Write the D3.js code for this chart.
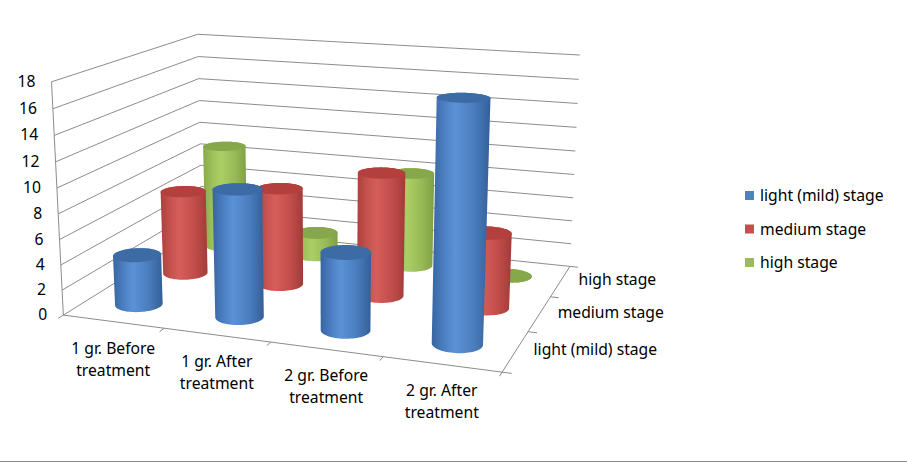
<!DOCTYPE html>
<html lang="en">
<head>
    <meta charset="UTF-8"/>
    <title>Stages before and after treatment</title>
    <script src="https://d3js.org/d3.v7.min.js"></script>
    <style>
        body { margin: 0; background: #fff; }
        text { font-family: "Noto Sans", "Liberation Sans", sans-serif; fill: #000; }
    </style>
</head>
<body>
    <div id="chart"></div>

    <script>
        // data
        var categories = ["1 gr. Before treatment", "1 gr. After treatment",
                          "2 gr. Before treatment", "2 gr. After treatment"];
        var series = ["light (mild) stage", "medium stage", "high stage"];
        var lightValues = [4, 10, 6, 18];
        var mediumValues = [7, 8, 10, 6];
        var highValues = [9, 2, 8, 0];
        var valueTicks = [0, 2, 4, 6, 8, 10, 12, 14, 16, 18];
        var seriesValues = [lightValues, mediumValues, highValues];

        var w = 907;
        var h = 463;
        var fontSize = 15.7;

        // 3d box (world units) and camera
        var boxW = 305.1, boxD = 226.3, boxH = 161.2;
        var yaw = 0.3461, pitch = 0.2611, focal = 1418.7, dist = 1000;
        var cx = 327.0, cy = 199.2, shiftA = -2.0, shiftB = -12.9;

        var xScale = d3.scaleBand().domain(categories).range([0, boxW]);
        var zScale = d3.scaleBand().domain(series).range([0, boxD]);
        var yScale = d3.scaleLinear().domain([0, 18]).range([0, boxH]);
        var radius = xScale.bandwidth() * 0.216;

        var colors = d3.scaleOrdinal().domain(series).range(["#4f81bd", "#c0504d", "#9bbb59"]);
        var topColors = d3.scaleOrdinal().domain(series).range(["#3d6ba6", "#b4403d", "#87a84a"]);
        var shades = {
            "light (mild) stage": ["#3765a0", "#4c80c4", "#5b92d6", "#4a7dbd", "#345f98"],
            "medium stage": ["#ad3f3c", "#c75350", "#d65d5a", "#c14e4b", "#a23b39"],
            "high stage": ["#87a94b", "#9fc25c", "#abcf66", "#98ba57", "#7f9f45"]
        };

        var sp = Math.sin(yaw), cp = Math.cos(yaw), sf = Math.sin(pitch), cf = Math.cos(pitch);
        var fwd = [-sp * cf, -sf, cp * cf], right = [cp, 0, sp], up = [-sf * sp, cf, sf * cp];
        var eye = [0, 1, 2].map(function(i) {
            var centre = [boxW / 2, boxH / 2, boxD / 2][i];
            return centre - dist * fwd[i] + shiftA * right[i] + shiftB * up[i];
        });

        // world (x along categories, y up, z into depth) -> screen
        function project(X, Y, Z) {
            var v = [X - eye[0], Y - eye[1], Z - eye[2]];
            var xc = v[0] * right[0] + v[1] * right[1] + v[2] * right[2];
            var yc = v[0] * up[0] + v[1] * up[1] + v[2] * up[2];
            var zc = v[0] * fwd[0] + v[1] * fwd[1] + v[2] * fwd[2];
            return [cx + focal * xc / zc, cy - focal * yc / zc, zc];
        }

        var line = d3.line();

        var svg = d3.select("#chart")
                    .append("svg")
                    .attr("width", w)
                    .attr("height", h);

        var defs = svg.append("defs");
        series.forEach(function(s, i) {
            var g = defs.append("linearGradient").attr("id", "shade" + i);
            shades[s].forEach(function(c, k) {
                g.append("stop").attr("offset", [0, 0.22, 0.4, 0.72, 1][k]).attr("stop-color", c);
            });
        });

        // walls: gridlines on left and back wall
        svg.append("g")
            .selectAll("path")
            .data(valueTicks)
            .enter()
            .append("path")
            .attr("d", function(t) {
                var y = yScale(t);
                return line([project(0, y, 0), project(0, y, boxD), project(boxW, y, boxD)]);
            })
            .attr("fill", "none")
            .attr("stroke", "#8c8c8c")
            .attr("stroke-width", 1);

        // axis lines
        var axisG = svg.append("g").attr("stroke", "#8c8c8c").attr("fill", "none");
        axisG.append("path").attr("d", line([project(0, 0, 0), project(0, boxH, 0)]));
        axisG.append("path").attr("d", line([project(0, 0, 0), project(boxW, 0, 0), project(boxW, 0, boxD)]));

        // category ticks on front edge, series ticks on right edge
        var xEdges = categories.map(function(c) { return xScale(c); }).concat([boxW]);
        axisG.selectAll(".xtick")
            .data(xEdges)
            .enter()
            .append("path")
            .attr("d", function(x) { return line([project(x, 0, 0), project(x, 0, -7)]); });
        var zEdges = series.map(function(s) { return zScale(s); }).concat([boxD]);
        axisG.selectAll(".ztick")
            .data(zEdges)
            .enter()
            .append("path")
            .attr("d", function(z) { return line([project(boxW, 0, z), project(boxW + 6, 0, z)]); });

        // value labels
        svg.append("g")
            .selectAll("text")
            .data(valueTicks)
            .enter()
            .append("text")
            .text(function(t) { return t; })
            .attr("x", function(t) { return project(0, yScale(t), 0)[0] - 16; })
            .attr("y", function(t) { return project(0, yScale(t), 0)[1] + 5; })
            .attr("text-anchor", "end")
            .style("font-size", fontSize + "px");

        // category labels (two lines)
        svg.append("g")
            .selectAll("text")
            .data(categories)
            .enter()
            .append("text")
            .attr("text-anchor", "middle")
            .style("font-size", fontSize + "px")
            .each(function(c) {
                var p = project(xScale(c) + xScale.bandwidth() / 2, 0, 0);
                var cut = c.lastIndexOf(" ");
                var t = d3.select(this);
                t.append("tspan").attr("x", p[0]).attr("y", p[1] + 32).text(c.slice(0, cut));
                t.append("tspan").attr("x", p[0]).attr("y", p[1] + 54).text(c.slice(cut + 1));
            });

        // series labels on depth axis
        svg.append("g")
            .selectAll("text")
            .data(series)
            .enter()
            .append("text")
            .text(function(s) { return s; })
            .attr("x", function(s) { return project(boxW, 0, zScale(s) + zScale.bandwidth() / 2)[0] + 18; })
            .attr("y", function(s) { return project(boxW, 0, zScale(s) + zScale.bandwidth() / 2)[1] + 4; })
            .style("font-size", fontSize + "px");

        // cylinders, far ones first
        var bars = [];
        series.forEach(function(s, j) {
            categories.forEach(function(c, i) {
                var X = xScale(c) + xScale.bandwidth() / 2;
                var Z = zScale(s) + zScale.bandwidth() / 2;
                bars.push({ s: s, j: j, c: c, value: seriesValues[j][i], X: X, Z: Z, depth: project(X, 0, Z)[2] });
            });
        });
        bars.sort(function(a, b) { return b.depth - a.depth; });

        var angles = d3.range(0, 2 * Math.PI, Math.PI / 36);
        function ring(d, y) {
            return angles.map(function(a) {
                var p = project(d.X + radius * Math.cos(a), y, d.Z + radius * Math.sin(a));
                return [p[0], p[1]];
            });
        }

        var barG = svg.append("g")
                      .selectAll("g")
                      .data(bars)
                      .enter()
                      .append("g");
        barG.append("path")
            .attr("d", function(d) {
                var pts = ring(d, 0).concat(ring(d, yScale(d.value)));
                return line(d3.polygonHull(pts)) + "Z";
            })
            .attr("fill", function(d) { return "url(#shade" + d.j + ")"; });
        barG.append("path")
            .attr("d", function(d) { return line(ring(d, yScale(d.value))) + "Z"; })
            .attr("fill", function(d) { return topColors(d.s); });

        // legend
        var legend = svg.append("g")
                        .selectAll("g")
                        .data(series)
                        .enter()
                        .append("g")
                        .attr("transform", function(s, i) { return "translate(745," + (191 + i * 33.5) + ")"; });
        legend.append("rect")
            .attr("width", 9)
            .attr("height", 9)
            .attr("fill", function(s) { return colors(s); });
        legend.append("text")
            .text(function(s) { return s; })
            .attr("x", 15)
            .attr("y", 10)
            .style("font-size", fontSize + "px");

        // chart border (bottom edge visible)
        svg.append("line")
            .attr("x1", 0).attr("x2", w)
            .attr("y1", h - 1.5).attr("y2", h - 1.5)
            .attr("stroke", "#8c8c8c");
    </script>
</body>
</html>
